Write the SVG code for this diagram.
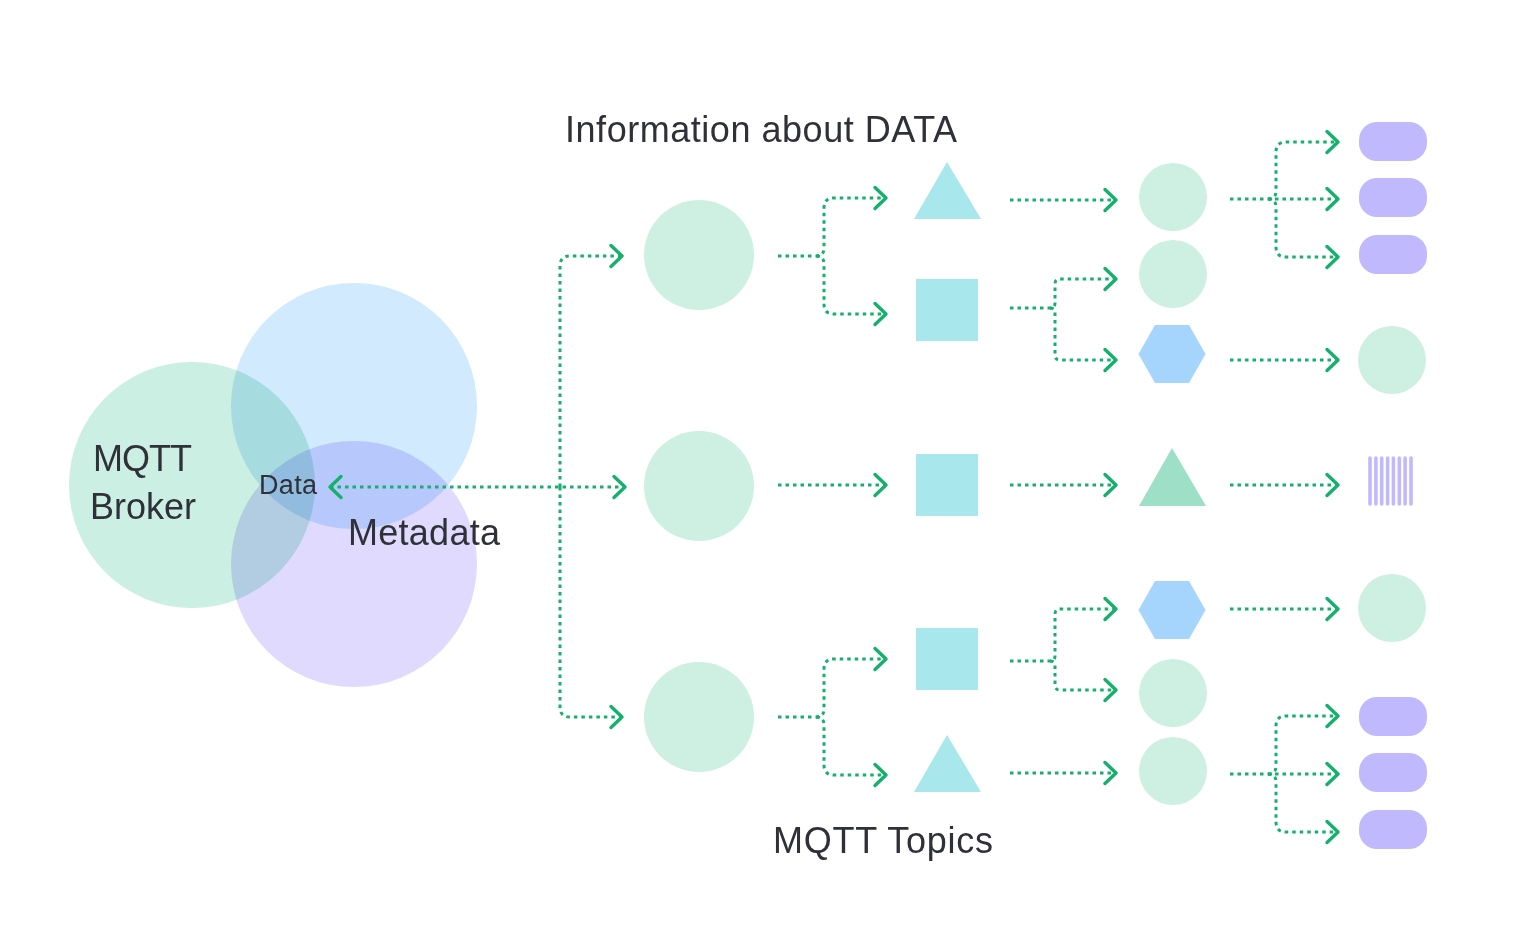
<svg xmlns="http://www.w3.org/2000/svg" width="1520" height="945" viewBox="0 0 1520 945">
  <style>
    .lbl { font-family: "Liberation Sans", Arial, sans-serif; fill: #2f3038; }
    .big { font-size: 36px; }
    .venn { mix-blend-mode: multiply; }
    .conn { fill: none; stroke: #14b06c; stroke-width: 3; stroke-dasharray: 3.5 4; }
    .mint { fill: #cdf0e3; }
    .teal { fill: #a8e7ec; }
    .hex { fill: #a5d5fd; }
    .pill { fill: #c1b9fd; }
    .bar { stroke: #c1b9fd; stroke-width: 3.6; stroke-linecap: round; }
  </style>
  <defs>
    <marker id="chev" markerUnits="userSpaceOnUse" markerWidth="20" markerHeight="28" viewBox="-16 -14 20 28" refX="0" refY="0" orient="auto-start-reverse">
      <path d="M-11,-10.5 L0,0 L-11,10.5" fill="none" stroke="#14b06c" stroke-width="3.4" stroke-linecap="round" stroke-linejoin="round"/>
    </marker>
  </defs>
  <rect width="1520" height="945" fill="#ffffff"/>

  <g id="venn" style="isolation:isolate">
    <circle class="venn" cx="192" cy="485" r="123" fill="#cbefe2"/>
    <circle class="venn" cx="354" cy="406" r="123" fill="#d1eafd"/>
    <circle class="venn" cx="354" cy="564" r="123" fill="#e0dbfe"/>
  </g>

  <g id="connectors">
    <path class="conn" d="M330,487 H625" marker-start="url(#chev)" marker-end="url(#chev)"/>
    <path class="conn" d="M560,487 V266 Q560,256 570,256 H622" marker-end="url(#chev)"/>
    <path class="conn" d="M560,487 V707 Q560,717 570,717 H622" marker-end="url(#chev)"/>

    <path class="conn" d="M778,256 H816 Q824,256 824,248 V208 Q824,198 834,198 H886" marker-end="url(#chev)"/>
    <path class="conn" d="M816,256 Q824,256 824,264 V304 Q824,314 834,314 H886" marker-end="url(#chev)"/>
    <path class="conn" d="M778,485 H886" marker-end="url(#chev)"/>
    <path class="conn" d="M778,717 H816 Q824,717 824,709 V669 Q824,659 834,659 H886" marker-end="url(#chev)"/>
    <path class="conn" d="M816,717 Q824,717 824,725 V765 Q824,775 834,775 H886" marker-end="url(#chev)"/>

    <path class="conn" d="M1010,200 H1116" marker-end="url(#chev)"/>
    <path class="conn" d="M1010,308 H1050 Q1055,308 1055,303 V284 Q1055,279 1060,279 H1116" marker-end="url(#chev)"/>
    <path class="conn" d="M1050,308 Q1055,308 1055,313 V355 Q1055,360 1060,360 H1116" marker-end="url(#chev)"/>
    <path class="conn" d="M1010,485 H1116" marker-end="url(#chev)"/>
    <path class="conn" d="M1010,661 H1050 Q1055,661 1055,656 V614 Q1055,609 1060,609 H1116" marker-end="url(#chev)"/>
    <path class="conn" d="M1050,661 Q1055,661 1055,666 V685 Q1055,690 1060,690 H1116" marker-end="url(#chev)"/>
    <path class="conn" d="M1010,773 H1116" marker-end="url(#chev)"/>

    <path class="conn" d="M1230,199 H1338" marker-end="url(#chev)"/>
    <path class="conn" d="M1268,199 Q1276,199 1276,191 V152 Q1276,142 1286,142 H1338" marker-end="url(#chev)"/>
    <path class="conn" d="M1268,199 Q1276,199 1276,207 V247 Q1276,257 1286,257 H1338" marker-end="url(#chev)"/>
    <path class="conn" d="M1230,360 H1338" marker-end="url(#chev)"/>
    <path class="conn" d="M1230,485 H1338" marker-end="url(#chev)"/>
    <path class="conn" d="M1230,609 H1338" marker-end="url(#chev)"/>
    <path class="conn" d="M1230,774 H1338" marker-end="url(#chev)"/>
    <path class="conn" d="M1268,774 Q1276,774 1276,766 V726 Q1276,716 1286,716 H1338" marker-end="url(#chev)"/>
    <path class="conn" d="M1268,774 Q1276,774 1276,782 V822 Q1276,832 1286,832 H1338" marker-end="url(#chev)"/>
  </g>

  <g id="labels">
    <text class="lbl big" x="93" y="471" textLength="99" lengthAdjust="spacing">MQTT</text>
    <text class="lbl big" x="90" y="519" textLength="106" lengthAdjust="spacing">Broker</text>
    <text class="lbl" x="259" y="494" font-size="27" textLength="58" lengthAdjust="spacing">Data</text>
    <text class="lbl big" x="348" y="545" textLength="152" lengthAdjust="spacing">Metadata</text>
    <text class="lbl big" x="565" y="142" textLength="392" lengthAdjust="spacing">Information about DATA</text>
    <text class="lbl big" x="773" y="853" textLength="220" lengthAdjust="spacing">MQTT Topics</text>
  </g>

  <g id="c1-top"><circle class="mint" cx="699" cy="255" r="55"/></g>
  <g id="c1-mid"><circle class="mint" cx="699" cy="486" r="55"/></g>
  <g id="c1-bot"><circle class="mint" cx="699" cy="717" r="55"/></g>

  <g id="c2-tri-top"><polygon class="teal" points="947,162 981,219 914,219"/></g>
  <g id="c2-sq-top"><rect class="teal" x="916" y="279" width="62" height="62"/></g>
  <g id="c2-sq-mid"><rect class="teal" x="916" y="454" width="62" height="62"/></g>
  <g id="c2-sq-bot"><rect class="teal" x="916" y="628" width="62" height="62"/></g>
  <g id="c2-tri-bot"><polygon class="teal" points="947,735 981,792 914,792"/></g>

  <g id="c3-circ-1"><circle class="mint" cx="1173" cy="197" r="34"/></g>
  <g id="c3-circ-2"><circle class="mint" cx="1173" cy="274" r="34"/></g>
  <g id="c3-hex-1"><polygon class="hex" points="1155,325 1189,325 1205.5,354 1189,383 1155,383 1138.5,354"/></g>
  <g id="c3-tri"><polygon fill="#9de0c7" points="1172,448 1206,506 1139,506"/></g>
  <g id="c3-hex-2"><polygon class="hex" points="1155,581 1189,581 1205.5,610 1189,639 1155,639 1138.5,610"/></g>
  <g id="c3-circ-3"><circle class="mint" cx="1173" cy="693" r="34"/></g>
  <g id="c3-circ-4"><circle class="mint" cx="1173" cy="771" r="34"/></g>

  <g id="c4-pill-1"><rect class="pill" x="1359" y="122" width="68" height="39" rx="18"/></g>
  <g id="c4-pill-2"><rect class="pill" x="1359" y="178" width="68" height="39" rx="18"/></g>
  <g id="c4-pill-3"><rect class="pill" x="1359" y="235" width="68" height="39" rx="18"/></g>
  <g id="c4-circ-1"><circle class="mint" cx="1392" cy="360" r="34"/></g>
  <g id="c4-bars">
    <line class="bar" x1="1370" y1="458" x2="1370" y2="504"/>
    <line class="bar" x1="1375.9" y1="458" x2="1375.9" y2="504"/>
    <line class="bar" x1="1381.7" y1="458" x2="1381.7" y2="504"/>
    <line class="bar" x1="1387.6" y1="458" x2="1387.6" y2="504"/>
    <line class="bar" x1="1393.4" y1="458" x2="1393.4" y2="504"/>
    <line class="bar" x1="1399.3" y1="458" x2="1399.3" y2="504"/>
    <line class="bar" x1="1405.1" y1="458" x2="1405.1" y2="504"/>
    <line class="bar" x1="1411" y1="458" x2="1411" y2="504"/>
  </g>
  <g id="c4-circ-2"><circle class="mint" cx="1392" cy="608" r="34"/></g>
  <g id="c4-pill-4"><rect class="pill" x="1359" y="697" width="68" height="39" rx="18"/></g>
  <g id="c4-pill-5"><rect class="pill" x="1359" y="753" width="68" height="39" rx="18"/></g>
  <g id="c4-pill-6"><rect class="pill" x="1359" y="810" width="68" height="39" rx="18"/></g>
</svg>
